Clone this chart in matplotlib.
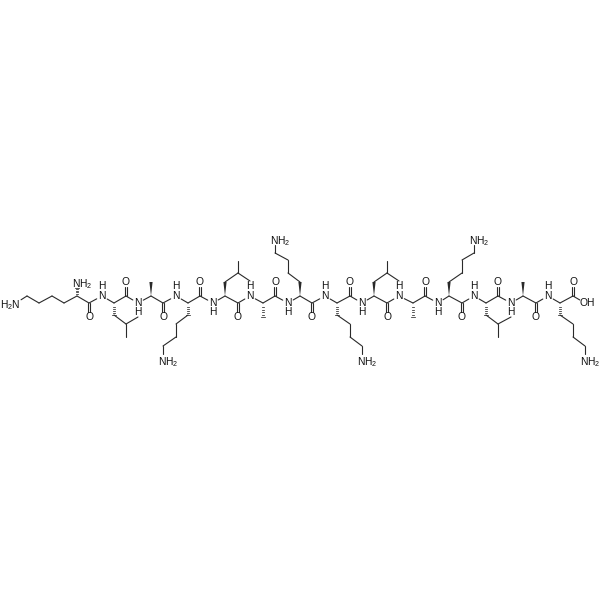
import numpy as np
import matplotlib
matplotlib.use("Agg")
import matplotlib.pyplot as plt

plt.rcParams['font.family'] = ['Liberation Sans', 'DejaVu Sans']
plt.rcParams['mathtext.default'] = 'regular'

residues = ['K', 'L', 'A', 'K', 'L', 'A', 'K', 'K', 'L', 'A', 'K', 'L', 'A', 'K']
alpha_x = [77, 114, 151, 188, 225, 263, 300, 337, 374, 413, 449, 486, 523, 560]
alpha_y = [296, 303, 296, 303, 296, 303, 296, 303, 296, 303, 296, 303, 296, 303]
carbonyl_x = [89, 126, 163, 200, 238, 275, 312, 350, 387, 425, 462, 498, 536, 573]
carbonyl_y = [303, 296, 303, 296, 303, 296, 303, 296, 303, 296, 303, 296, 303, 296]
oxygen_y = [317, 282, 317, 282, 317, 282, 317, 282, 317, 282, 317, 282, 317, 282]
amide_x = [102, 138, 176, 213, 250, 288, 325, 362, 399, 438, 474, 511, 548]
amide_y = [296, 303, 296, 303, 296, 303, 296, 303, 296, 303, 296, 303, 296]
hydrogen_y = [286, 312, 286, 312, 286, 312, 286, 312, 286, 312, 286, 312, 286]
wedge_solid = [False, False, True, False, True, False, True, False, True, False, True, False, True, False]

side_x = [[77], [114, 126, 126], [151], [188, 176, 176, 163, 163], [225, 238, 238], [263],
          [300, 288, 288, 275, 275], [337, 350, 350, 362, 362], [374, 387, 387], [413],
          [449, 462, 462, 474, 474], [486, 498, 498], [523], [560, 573, 573, 585, 585]]
side_y = [[282], [315, 324, 337], [282], [315, 324, 337, 346, 360], [282, 273, 261], [317],
          [282, 273, 260, 253, 239], [315, 324, 337, 346, 360], [282, 273, 261], [317],
          [282, 273, 260, 253, 239], [315, 324, 337], [282], [315, 324, 337, 346, 360]]
leu_tip_x = {1: 138, 4: 250, 8: 399, 11: 511}
leu_tip_y = {1: 317, 4: 281, 8: 281, 11: 317}
nterm_chain_x = [77, 64, 52, 39, 27, 16]
nterm_chain_y = [296, 303, 296, 303, 296, 303]
acid_oh_x, acid_oh_y = 585, 303

INK = '#2a2a2a'
LW = 0.8
FS = 7.4
GAP = 6.0

fig = plt.figure(figsize=(6, 6), dpi=100)
ax = fig.add_axes([0, 0, 1, 1])
ax.set_xlim(0, 600)
ax.set_ylim(600, 0)
ax.axis('off')


def bond(p, q, trim_p=0.0, trim_q=0.0, offset=0.0):
    p, q = np.array(p, float), np.array(q, float)
    d = q - p
    length = np.hypot(*d)
    u = d / length
    n = np.array([-u[1], u[0]]) * offset
    a = p + u * trim_p + n
    b = q - u * trim_q + n
    ax.plot([a[0], b[0]], [a[1], b[1]], color=INK, lw=LW, solid_capstyle='round')


def double(p, q, trim_q=0.0):
    bond(p, q, 0, trim_q, 1.3)
    bond(p, q, 0, trim_q, -1.3)


def stereo(p, q, solid, trim_q=0.0):
    p, q = np.array(p, float), np.array(q, float)
    d = q - p
    length = np.hypot(*d)
    u = d / length
    n = np.array([-u[1], u[0]])
    end = q - u * trim_q
    if solid:
        ax.fill(*zip(p, end + n * 1.6, end - n * 1.6), color=INK, lw=0)
    else:
        for f in [0.12, 0.3, 0.48, 0.66, 0.84, 1.0]:
            c = p + (end - p) * f
            w = 1.7 * f
            ax.plot(*zip(c - n * w, c + n * w), color=INK, lw=0.55)


def label(x, y, s, ha='center'):
    ax.text(x, y, s, ha=ha, va='center', fontsize=FS, color='#111111')


def nh2_right(x, y):
    ax.text(x - 5, y, 'NH$_2$', ha='left', va='center_baseline', fontsize=FS, color='#111111')


for i, name in enumerate(residues):
    ca = (alpha_x[i], alpha_y[i])
    co = (carbonyl_x[i], carbonyl_y[i])
    bond(ca, co)
    double(co, (carbonyl_x[i], oxygen_y[i]), GAP - 1)
    label(carbonyl_x[i], oxygen_y[i], 'O')
    if i < len(amide_x):
        nh = (amide_x[i], amide_y[i])
        bond(co, nh, 0, GAP)
        bond(nh, (alpha_x[i + 1], alpha_y[i + 1]), GAP, 0)
        label(amide_x[i], amide_y[i] - (0.5 if amide_y[i] > 300 else 0), 'N')
        label(amide_x[i], hydrogen_y[i], 'H')
    xs, ys = side_x[i], side_y[i]
    terminal_n = name == 'K'
    is_nterm = i == 0
    stereo(ca, (xs[0], ys[0]), wedge_solid[i], GAP if is_nterm else 0)
    for j in range(len(xs) - 1):
        trim = GAP if (terminal_n and j == len(xs) - 2) else 0
        bond((xs[j], ys[j]), (xs[j + 1], ys[j + 1]), 0, trim)
    if terminal_n:
        nh2_right(xs[-1], ys[-1])
    if i in leu_tip_x:
        bond((xs[1], ys[1]), (leu_tip_x[i], leu_tip_y[i]))

for j in range(len(nterm_chain_x) - 1):
    bond((nterm_chain_x[j], nterm_chain_y[j]), (nterm_chain_x[j + 1], nterm_chain_y[j + 1]),
         0, GAP if j == len(nterm_chain_x) - 2 else 0)
ax.text(nterm_chain_x[-1] + 4, nterm_chain_y[-1], 'H$_2$N', ha='right', va='center_baseline',
        fontsize=FS, color='#111111')

bond((carbonyl_x[-1], carbonyl_y[-1]), (acid_oh_x, acid_oh_y), 0, GAP)
ax.text(acid_oh_x - 5, acid_oh_y, 'OH', ha='left', va='center', fontsize=FS, color='#111111')

fig.savefig('out.png', dpi=100, facecolor='white')
